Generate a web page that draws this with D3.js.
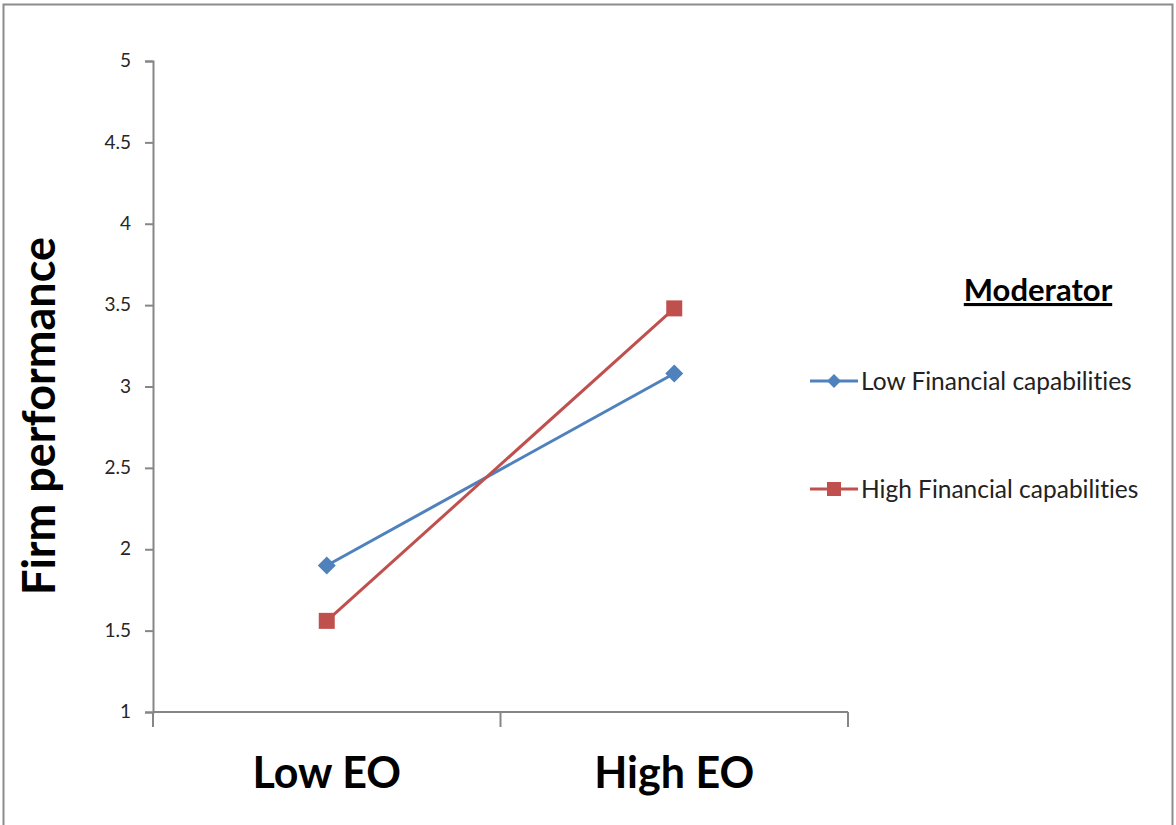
<!DOCTYPE html>
<html>
<head>
<meta charset="utf-8">
<script src="https://cdn.jsdelivr.net/npm/d3@7/dist/d3.min.js"></script>
<style>
  html, body { margin: 0; padding: 0; background: #fff; }
  svg { display: block; }
  text { font-family: Lato, "Open Sans", "Liberation Sans", sans-serif; font-variant-ligatures: none; }
</style>
</head>
<body>
<svg id="chart" width="1176" height="825"></svg>
<script>
// Interaction plot: firm performance by EO level for each moderator group
const categories = ["Low EO", "High EO"];
const lowFinancial = [1.90, 3.08];
const highFinancial = [1.56, 3.48];
const yTicks = [1, 1.5, 2, 2.5, 3, 3.5, 4, 4.5, 5];
const seriesNames = ["Low Financial capabilities", "High Financial capabilities"];
const legendTitle = "Moderator";
const yTitle = "Firm performance";

const series = [
  { name: seriesNames[0], values: lowFinancial, color: "#4F81BD", marker: "diamond" },
  { name: seriesNames[1], values: highFinancial, color: "#C0504D", marker: "square" }
];

const svg = d3.select("#chart");

// outer frame
svg.append("rect")
  .attr("x", 3.5).attr("y", 4.5)
  .attr("width", 1169).attr("height", 830)
  .attr("fill", "#fff").attr("stroke", "#8c8c8c").attr("stroke-width", 2);

const plot = { left: 153, right: 848, top: 61, bottom: 712 };

const x = d3.scaleBand()
  .domain(categories)
  .range([plot.left, plot.right]);

const y = d3.scaleLinear()
  .domain([1, 5])
  .range([plot.bottom, plot.top]);

const axisColor = "#868686";

// y axis
const yAxis = svg.append("g")
  .attr("transform", `translate(${plot.left},0)`)
  .call(d3.axisLeft(y).tickValues(yTicks).tickSize(8).tickPadding(14)
    .tickFormat(d3.format("")));
yAxis.select(".domain").attr("stroke", axisColor).attr("stroke-width", 2);
yAxis.selectAll(".tick line").attr("stroke", axisColor).attr("stroke-width", 2);
yAxis.selectAll(".tick text")
  .attr("fill", "#262626").attr("font-size", 19)
  .attr("dy", "0.3em")
  .style("font-family", "Lato, 'Open Sans', sans-serif");

// x axis: boundaries between categories carry the tick marks
const xAxisG = svg.append("g");
xAxisG.append("line")
  .attr("x1", plot.left).attr("x2", plot.right)
  .attr("y1", plot.bottom).attr("y2", plot.bottom)
  .attr("stroke", axisColor).attr("stroke-width", 2);
const boundaries = [plot.left, ...categories.map(c => x(c) + x.bandwidth())];
xAxisG.selectAll("line.bound")
  .data(boundaries)
  .join("line")
  .attr("class", "bound")
  .attr("x1", d => d).attr("x2", d => d)
  .attr("y1", plot.bottom).attr("y2", plot.bottom + 15)
  .attr("stroke", axisColor).attr("stroke-width", 2);
xAxisG.selectAll("text.cat")
  .data(categories)
  .join("text")
  .attr("class", "cat")
  .attr("x", d => x(d) + x.bandwidth() / 2)
  .attr("y", 788)
  .attr("text-anchor", "middle")
  .attr("font-size", 43)
  .attr("font-weight", "bold")
  .attr("fill", "#000")
  .text(d => d);

// y axis title
svg.append("text")
  .attr("transform", "translate(55,416) rotate(-90)")
  .attr("text-anchor", "middle")
  .attr("font-size", 45)
  .attr("font-weight", "bold")
  .attr("fill", "#000")
  .text(yTitle);

const cx = d => x(d) + x.bandwidth() / 2;

function drawMarker(g, type, color) {
  if (type === "diamond") {
    g.append("path").attr("d", "M0,-9L9,0L0,9L-9,0Z").attr("fill", color);
  } else {
    g.append("rect").attr("x", -8).attr("y", -8).attr("width", 16).attr("height", 16).attr("fill", color);
  }
}

const line = d3.line()
  .x((d, i) => cx(categories[i]))
  .y(d => y(d));

series.forEach(s => {
  svg.append("path")
    .datum(s.values)
    .attr("d", line)
    .attr("fill", "none")
    .attr("stroke", s.color)
    .attr("stroke-width", 3);
  s.values.forEach((v, i) => {
    const g = svg.append("g").attr("transform", `translate(${cx(categories[i])},${y(v)})`);
    drawMarker(g, s.marker, s.color);
  });
});

// legend
svg.append("text")
  .attr("x", 1038).attr("y", 301)
  .attr("text-anchor", "middle")
  .attr("font-size", 31)
  .attr("font-weight", "bold")
  .attr("fill", "#000")
  .attr("text-decoration", "underline")
  .text(legendTitle);

const legendY = [381, 489];
series.forEach((s, i) => {
  const g = svg.append("g").attr("transform", `translate(0,${legendY[i]})`);
  g.append("line").attr("x1", 810).attr("x2", 858).attr("y1", 0).attr("y2", 0)
    .attr("stroke", s.color).attr("stroke-width", 3);
  const m = g.append("g").attr("transform", "translate(834,0)");
  if (s.marker === "diamond") {
    m.append("path").attr("d", "M0,-7L7,0L0,7L-7,0Z").attr("fill", s.color);
  } else {
    m.append("rect").attr("x", -7).attr("y", -7).attr("width", 14).attr("height", 14).attr("fill", s.color);
  }
  g.append("text")
    .attr("x", 861).attr("y", 0).attr("dy", "0.35em")
    .attr("font-size", 24.5)
    .attr("fill", "#222")
    .style("font-family", "Lato, 'Open Sans', sans-serif")
    .text(s.name);
});
</script>
</body>
</html>
